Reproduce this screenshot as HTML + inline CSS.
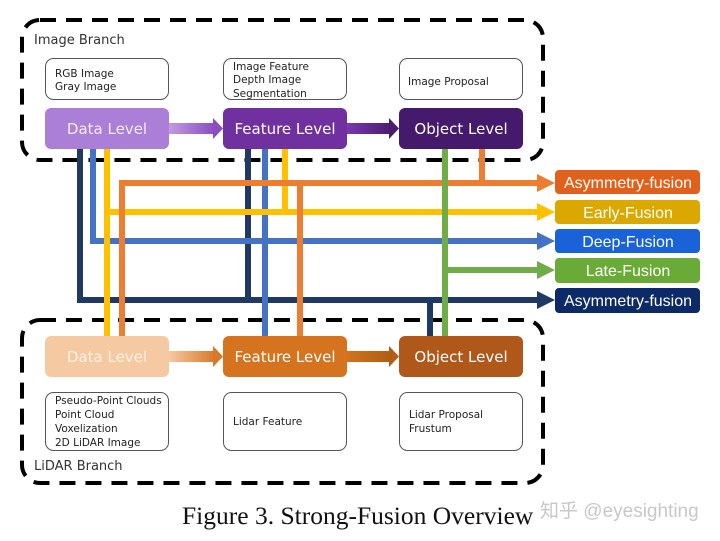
<!DOCTYPE html>
<html><head><meta charset="utf-8"><style>
html,body{margin:0;padding:0;background:#fff;}
svg{display:block;}
text{font-family:"DejaVu Sans","Liberation Sans",sans-serif;}
</style></head><body>
<svg width="720" height="541" viewBox="0 0 720 541" xmlns="http://www.w3.org/2000/svg">
<defs>
<linearGradient id="g1" x1="0" x2="1"><stop offset="0" stop-color="#c29ae0"/><stop offset="1" stop-color="#8a4cc0"/></linearGradient>
<linearGradient id="g2" x1="0" x2="1"><stop offset="0" stop-color="#7a38b0"/><stop offset="1" stop-color="#4a1d70"/></linearGradient>
<linearGradient id="g3" x1="0" x2="1"><stop offset="0" stop-color="#f6c9a0"/><stop offset="1" stop-color="#d8782c"/></linearGradient>
<linearGradient id="g4" x1="0" x2="1"><stop offset="0" stop-color="#d0741c"/><stop offset="1" stop-color="#b05e16"/></linearGradient>
</defs>
<rect x="22" y="20" width="521" height="140" rx="18" fill="none" stroke="#000" stroke-width="4" stroke-dasharray="16,10"/>
<rect x="22" y="320" width="521" height="163" rx="18" fill="none" stroke="#000" stroke-width="4" stroke-dasharray="16,10"/>
<text x="34" y="44" font-size="13" fill="#333">Image Branch</text>
<text x="34" y="470" font-size="13" fill="#333">LiDAR Branch</text>

<rect x="45.5" y="58.5" width="123" height="41" rx="8" fill="#fff" stroke="#555"/>
<text x="55" y="77" font-size="10.5" fill="#222">RGB Image</text>
<text x="55" y="90" font-size="10.5" fill="#222">Gray Image</text>
<rect x="223.5" y="58.5" width="123" height="41" rx="8" fill="#fff" stroke="#555"/>
<text x="233" y="70" font-size="10.5" fill="#222">Image Feature</text>
<text x="233" y="83" font-size="10.5" fill="#222">Depth Image</text>
<text x="233" y="97" font-size="10.5" fill="#222">Segmentation</text>
<rect x="399.5" y="58.5" width="123" height="41" rx="8" fill="#fff" stroke="#555"/>
<text x="408" y="85" font-size="10.5" fill="#222">Image Proposal</text>

<g fill="none" stroke-width="6">
<polyline points="80,149 80,300 541,300" stroke="#1f3864"/>
<line x1="248" y1="149" x2="248" y2="300" stroke="#1f3864"/>
<line x1="430" y1="300" x2="430" y2="336" stroke="#1f3864"/>
<polyline points="93,149 93,241 541,241" stroke="#4472c4"/>
<line x1="265" y1="149" x2="265" y2="336" stroke="#4472c4"/>
<polyline points="107,149 107,336" stroke="#ffc000"/>
<line x1="107" y1="212" x2="541" y2="212" stroke="#ffc000"/>
<line x1="285" y1="149" x2="285" y2="212" stroke="#ffc000"/>
<polyline points="122,336 122,183 541,183" stroke="#ed7d31"/>
<line x1="300" y1="183" x2="300" y2="336" stroke="#ed7d31"/>
<line x1="482" y1="149" x2="482" y2="183" stroke="#ed7d31"/>
<line x1="445" y1="149" x2="445" y2="336" stroke="#70ad47"/>
<line x1="445" y1="270" x2="541" y2="270" stroke="#70ad47"/>
</g>
<polygon points="537,174 555,183 537,192" fill="#ed7d31"/>
<polygon points="537,203 555,212 537,221" fill="#ffc000"/>
<polygon points="537,232 555,241 537,250" fill="#4472c4"/>
<polygon points="537,261 555,270 537,279" fill="#70ad47"/>
<polygon points="537,291 555,300 537,309" fill="#1f3864"/>

<g font-size="16" fill="#fff" text-anchor="middle" style="font-family:'Liberation Sans',sans-serif">
<rect x="555" y="170" width="145" height="24" rx="4" fill="#e0611c"/><text x="628" y="188" style="font-family:'Liberation Sans',sans-serif">Asymmetry-fusion</text>
<rect x="555" y="200" width="145" height="24" rx="4" fill="#dba800"/><text x="628" y="218" style="font-family:'Liberation Sans',sans-serif">Early-Fusion</text>
<rect x="555" y="229" width="145" height="24" rx="4" fill="#1a62d8"/><text x="628" y="247" style="font-family:'Liberation Sans',sans-serif">Deep-Fusion</text>
<rect x="555" y="258" width="145" height="25" rx="4" fill="#6aab38"/><text x="628" y="276" style="font-family:'Liberation Sans',sans-serif">Late-Fusion</text>
<rect x="555" y="288" width="145" height="25" rx="4" fill="#0c2a68"/><text x="628" y="306" style="font-family:'Liberation Sans',sans-serif">Asymmetry-fusion</text>
</g>

<rect x="169" y="123" width="46" height="11" fill="url(#g1)"/>
<polygon points="213,118 223,128.5 213,139" fill="#8a4cc0"/>
<rect x="347" y="123" width="44" height="11" fill="url(#g2)"/>
<polygon points="389,118 399,128.5 389,139" fill="#4a1d70"/>
<g font-size="15" fill="#fff" text-anchor="middle">
<rect x="45" y="108" width="124" height="41" rx="6" fill="#ab7ed8"/><text x="107" y="134" fill="#f4ecfb">Data Level</text>
<rect x="223" y="108" width="124" height="41" rx="6" fill="#7030a0"/><text x="285" y="134">Feature Level</text>
<rect x="399" y="108" width="124" height="41" rx="6" fill="#45196b"/><text x="461" y="134">Object Level</text>
</g>

<rect x="169" y="351" width="46" height="11" fill="url(#g3)"/>
<polygon points="213,346 223,356.5 213,367" fill="#d8782c"/>
<rect x="347" y="351" width="44" height="11" fill="url(#g4)"/>
<polygon points="389,346 399,356.5 389,367" fill="#b05e16"/>
<g font-size="15" fill="#fff" text-anchor="middle">
<rect x="45" y="336" width="124" height="41" rx="6" fill="#f5c9a2"/><text x="107" y="362" fill="#fdf0e4">Data Level</text>
<rect x="223" y="336" width="124" height="41" rx="6" fill="#d5731e"/><text x="285" y="362">Feature Level</text>
<rect x="399" y="336" width="124" height="41" rx="6" fill="#b0581a"/><text x="461" y="362">Object Level</text>
</g>

<rect x="45.5" y="392.5" width="123" height="58" rx="8" fill="#fff" stroke="#555"/>
<text x="55" y="404" font-size="10.5" fill="#222">Pseudo-Point Clouds</text>
<text x="55" y="418" font-size="10.5" fill="#222">Point Cloud</text>
<text x="55" y="432" font-size="10.5" fill="#222">Voxelization</text>
<text x="55" y="446" font-size="10.5" fill="#222">2D LiDAR Image</text>
<rect x="223.5" y="392.5" width="123" height="58" rx="8" fill="#fff" stroke="#555"/>
<text x="233" y="425" font-size="10.5" fill="#222">Lidar Feature</text>
<rect x="399.5" y="392.5" width="123" height="58" rx="8" fill="#fff" stroke="#555"/>
<text x="409" y="418" font-size="10.5" fill="#222">Lidar Proposal</text>
<text x="409" y="432" font-size="10.5" fill="#222">Frustum</text>

<text x="182" y="524" font-size="25.5" fill="#111" style="font-family:'Liberation Serif',serif">Figure 3. Strong-Fusion Overview</text>
<text x="540" y="517" font-size="19" fill="#c8c8c8" style="font-family:'Liberation Sans','Noto Sans CJK SC',sans-serif">知乎 @eyesighting</text>
</svg>
</body></html>
